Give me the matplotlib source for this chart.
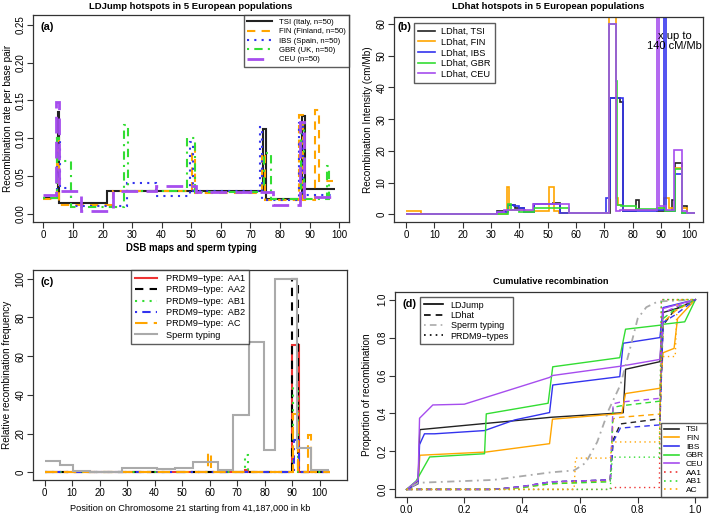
import numpy as np
import matplotlib
matplotlib.use("Agg")
import matplotlib.pyplot as plt
from matplotlib.lines import Line2D

plt.rcParams['font.family'] = ['Liberation Sans', 'DejaVu Sans']

# colours
c_tsi = "#222222"
c_fin = "#FFA500"
c_ibs = "#3333EE"
c_gbr = "#33DD33"
c_ceu = "#A64DEE"
c_red = "#EE3333"
c_grey = "#AAAAAA"

# ---------- (a) LDJump step functions ----------
a_tsi_edges = [0, 4.9, 5.3, 21.6, 74.1, 75.2, 87.3, 88.4, 98.5]
a_tsi_vals = [0.021, 0.135, 0.015, 0.031, 0.112, 0.020, 0.129, 0.033]
a_fin_edges = [0, 4.5, 5.3, 23.6, 50.3, 51.3, 73.8, 75.0, 86.5, 87.8, 91.8, 93.2, 98.0]
a_fin_vals = [0.020, 0.10, 0.012, 0.031, 0.089, 0.028, 0.08, 0.018, 0.131, 0.018, 0.137, 0.044]
a_ibs_edges = [0, 4.5, 5.5, 9.5, 28.3, 38.2, 49.5, 50.6, 73.2, 73.8, 86.5, 87.8, 98.5]
a_ibs_vals = [0.021, 0.10, 0.034, 0.010, 0.0405, 0.024, 0.095, 0.030, 0.115, 0.0185, 0.12, 0.025]
a_gbr_edges = [0, 4.5, 5.3, 9.3, 27.2, 28.5, 48.5, 51.3, 74.5, 77.0, 87.0, 88.0, 96.0, 96.6, 98.5]
a_gbr_vals = [0.021, 0.10, 0.0705, 0.0097, 0.117, 0.031, 0.10, 0.029, 0.08, 0.020, 0.12, 0.020, 0.064, 0.020]
a_ceu_edges = [0, 4.3, 5.4, 12.9, 23.6, 38.2, 51.5, 77.6, 86.6, 88.0, 98.5]
a_ceu_vals = [0.025, 0.148, 0.031, 0.004, 0.031, 0.037, 0.029, 0.012, 0.122, 0.023]

# ---------- (b) LDhat step functions ----------
b_tsi_edges = [0, 32, 36, 38.5, 41.5, 45.3, 52, 54.5, 72.1, 75.4, 76.6, 81.2, 82.4, 88.7, 93.8, 94.8, 97.3, 99.3, 102]
b_tsi_vals = [0.2, 1.0, 2.8, 2.0, 0.8, 3.2, 3.6, 0.4, 36.8, 35.3, 1.2, 4.6, 1.3, 1.2, 4.5, 16.3, 2.5, 0.3]
b_fin_edges = [0, 5.2, 35.6, 36.5, 42, 45.3, 50.6, 52.3, 54, 71.7, 74.2, 75, 76.5, 88.7, 91, 92.7, 94.8, 97.3, 99, 102]
b_fin_vals = [1.0, 0.2, 8.7, 1.5, 1.0, 1.2, 8.5, 1.0, 0.4, 80, 5.0, 3.0, 1.5, 2.0, 5.0, 2.0, 14.5, 2.0, 0.3]
b_ibs_edges = [0, 32, 36, 38, 40, 41.5, 45.3, 54.5, 70.7, 71.9, 76.6, 88.7, 90.9, 91.9, 94.8, 97.3, 102]
b_ibs_vals = [0.2, 0.8, 3.0, 2.5, 2.0, 0.8, 3.2, 0.4, 5.0, 36.8, 1.2, 1.5, 140, 1.0, 12.7, 0.3]
b_gbr_edges = [0, 35.9, 37, 40, 45.3, 57.6, 71.7, 74, 74.6, 76, 81, 88.7, 91.5, 94.8, 97.3, 102]
b_gbr_vals = [0.2, 3.3, 1.5, 0.8, 2.0, 0.4, 60, 42, 3.0, 2.5, 1.8, 2.0, 1.0, 14.3, 0.3]
b_ceu_edges = [0, 32, 34.6, 45, 57.6, 71.7, 74.2, 75.5, 88.7, 89.4, 91.9, 94.6, 97.4, 99, 102]
b_ceu_vals = [0.2, 0.6, 1.4, 3.3, 0.4, 60, 1.0, 1.5, 140, 2.5, 1.5, 20.4, 1.0, 0.3]

# ---------- (c) PRDM9 types and sperm typing ----------
c_sperm_edges = [0, 5.6, 10.5, 16.7, 28.3, 35, 40.7, 47.3, 54, 63, 68.4, 74.4, 79.8, 83.9, 91.8, 96.8, 103.2]
c_sperm_vals = [6, 4, 0.8, 0.3, 2, 2.3, 1.5, 2, 5.5, 1.2, 29.5, 67.5, 11.5, 100, 12.5, 1.2]
c_aa1_edges = [0, 73, 73.8, 90.1, 92.3, 103.6]
c_aa1_vals = [0, 1, 0, 66, 0]
c_aa2_edges = [0, 90.0, 92.2, 103.6]
c_aa2_vals = [0, 100, 0]
c_ab1_edges = [0, 72.8, 73.8, 90.3, 92.2, 103.6]
c_ab1_vals = [0, 8.8, 0, 45, 0]
c_ab2_edges = [0, 90.5, 92.3, 103.6]
c_ab2_vals = [0, 16.5, 0]
c_ac_edges = [0, 59.5, 60.5, 90.2, 92.2, 95.9, 96.9, 103.6]
c_ac_vals = [0, 10, 0, 30, 0, 19, 0]

# ---------- (d) cumulative recombination ----------
d_tsi_x = [0, 0.04, 0.046, 0.5, 0.75, 0.758, 0.877, 0.888, 0.95, 1.0]
d_tsi_y = [0, 0.04, 0.315, 0.38, 0.404, 0.633, 0.673, 0.932, 0.96, 1.0]
d_fin_x = [0, 0.04, 0.046, 0.276, 0.495, 0.505, 0.745, 0.758, 0.877, 0.888, 0.926, 0.938, 1.0]
d_fin_y = [0, 0.03, 0.18, 0.197, 0.241, 0.37, 0.40, 0.505, 0.533, 0.72, 0.743, 0.9, 1.0]
d_ibs_x = [0, 0.04, 0.045, 0.062, 0.097, 0.27, 0.374, 0.495, 0.506, 0.738, 0.75, 0.877, 0.888, 1.0]
d_ibs_y = [0, 0.03, 0.236, 0.293, 0.293, 0.31, 0.366, 0.405, 0.55, 0.594, 0.77, 0.80, 0.958, 1.0]
d_gbr_x = [0, 0.033, 0.08, 0.27, 0.276, 0.49, 0.506, 0.738, 0.758, 0.877, 0.888, 0.963, 1.0]
d_gbr_y = [0, 0.044, 0.171, 0.188, 0.398, 0.454, 0.646, 0.694, 0.844, 0.865, 0.87, 0.883, 1.0]
d_ceu_x = [0, 0.04, 0.045, 0.091, 0.2, 0.495, 0.505, 0.745, 0.877, 0.888, 1.0]
d_ceu_y = [0, 0.05, 0.375, 0.445, 0.449, 0.59, 0.60, 0.65, 0.685, 0.953, 1.0]

dh_x = [0, 0.3, 0.4, 0.5, 0.705, 0.715, 0.74, 0.877, 0.888, 0.93, 1.0]
dh_tsi_y = [0, 0, 0.015, 0.04, 0.05, 0.26, 0.345, 0.372, 0.865, 0.95, 1.0]
dh_fin_y = [0, 0, 0.01, 0.03, 0.045, 0.372, 0.38, 0.397, 0.88, 0.94, 1.0]
dh_ibs_y = [0, 0, 0.015, 0.04, 0.05, 0.25, 0.323, 0.34, 0.88, 0.92, 1.0]
dh_gbr_y = [0, 0, 0.01, 0.03, 0.04, 0.432, 0.44, 0.465, 0.9, 0.95, 1.0]
dh_ceu_y = [0, 0, 0.015, 0.04, 0.05, 0.451, 0.46, 0.48, 0.93, 0.96, 1.0]

d_sperm_x = [0, 0.04, 0.3, 0.5, 0.58, 0.62, 0.66, 0.70, 0.74, 0.77, 0.80, 0.83, 0.87, 1.0]
d_sperm_y = [0, 0.035, 0.05, 0.09, 0.10, 0.14, 0.25, 0.42, 0.55, 0.72, 0.90, 0.96, 0.99, 1.0]

d_aa1_x = [0, 0.705, 0.712, 0.875, 0.882, 1.0]
d_aa1_y = [0, 0, 0.01, 0.01, 1.0, 1.0]
d_ab1_x = [0, 0.705, 0.712, 0.875, 0.882, 1.0]
d_ab1_y = [0, 0, 0.17, 0.17, 1.0, 1.0]
d_ac_x = [0, 0.58, 0.585, 0.705, 0.712, 0.875, 0.882, 0.93, 0.937, 1.0]
d_ac_y = [0, 0, 0.165, 0.165, 0.25, 0.25, 0.70, 0.70, 1.0, 1.0]

# line styles (R lty)
ls_dash = (0, (4, 3))
ls_dot = (0, (1, 2.5))
ls_dotdash = (0, (1, 2.5, 4, 2.5))
ls_long = (0, (6, 3))

fig = plt.figure(figsize=(7.09, 5.16), dpi=100)
axa = fig.add_axes([0.0465, 0.5698, 0.4457, 0.4012])
axb = fig.add_axes([0.5557, 0.5698, 0.4358, 0.3973])
axc = fig.add_axes([0.0465, 0.0698, 0.4429, 0.4069])
axd = fig.add_axes([0.5571, 0.0368, 0.4401, 0.3973])

fs_tick = 7
fs_lab = 7.2
for ax in [axa, axb, axc, axd]:
    for s in ax.spines.values():
        s.set_linewidth(0.9)
        s.set_color("#333333")
    ax.tick_params(direction='out', length=4, width=0.8, labelsize=fs_tick, color="#333333", pad=1.5)

def yticks_r(ax, vals, labels):
    ax.set_yticks(vals)
    ax.set_yticklabels(labels, rotation=90, va='center')

def ylabel_r(ax, text, xpos):
    ax.set_ylabel(text, fontsize=fs_lab, va='center')
    ax.yaxis.set_label_coords(xpos, 0.5)

# (a)
axa.stairs(a_tsi_vals, a_tsi_edges, baseline=None, color=c_tsi, lw=1.5, label="TSI (Italy, n=50)")
axa.stairs(a_fin_vals, a_fin_edges, baseline=None, color=c_fin, lw=1.5, ls=ls_dash, label="FIN (Finland, n=50)")
axa.stairs(a_ibs_vals, a_ibs_edges, baseline=None, color=c_ibs, lw=1.5, ls=ls_dot, label="IBS (Spain, n=50)")
axa.stairs(a_gbr_vals, a_gbr_edges, baseline=None, color=c_gbr, lw=1.5, ls=ls_dotdash, label="GBR (UK, n=50)")
axa.stairs(a_ceu_vals, a_ceu_edges, baseline=None, color=c_ceu, lw=2.0, ls=ls_long, label="CEU (n=50)")
axa.set_xlim(-3.5, 103.3)
axa.set_ylim(-0.0106, 0.263)
axa.set_xticks(np.arange(0, 101, 10))
yticks_r(axa, [0, 0.05, 0.10, 0.15, 0.20, 0.25], ["0.00", "0.05", "0.10", "0.15", "0.20", "0.25"])
axa.text(0.5, 1.043, "LDJump hotspots in 5 European populations", transform=axa.transAxes,
         fontsize=6.8, fontweight='bold', ha='center', va='center')
axa.set_xlabel("DSB maps and sperm typing", fontsize=6.9, fontweight='bold', va='center')
axa.xaxis.set_label_coords(0.5, -0.126)
ylabel_r(axa, "Recombination rate per base pair", -0.079)
axa.text(0.025, 0.965, "(a)", transform=axa.transAxes, fontsize=7.8, fontweight='bold', va='top')
axa.legend(loc='upper right', fontsize=5.6, frameon=True, fancybox=False, edgecolor='#333333',
           borderaxespad=0, handlelength=3.2, labelspacing=0.25, borderpad=0.45, handletextpad=0.8)

# (b)
axb.stairs(b_tsi_vals, b_tsi_edges, baseline=None, color=c_tsi, lw=1.2, label="LDhat, TSI")
axb.stairs(b_fin_vals, b_fin_edges, baseline=None, color=c_fin, lw=1.2, label="LDhat, FIN")
axb.stairs(b_ibs_vals, b_ibs_edges, baseline=None, color=c_ibs, lw=1.2, label="LDhat, IBS")
axb.stairs(b_gbr_vals, b_gbr_edges, baseline=None, color=c_gbr, lw=1.2, label="LDhat, GBR")
axb.stairs(b_ceu_vals, b_ceu_edges, baseline=None, color=c_ceu, lw=1.2, label="LDhat, CEU")
axb.set_xlim(-4.2, 104.8)
axb.set_ylim(-2.4, 62.2)
axb.set_xticks(np.arange(0, 101, 10))
yticks_r(axb, np.arange(0, 61, 10), [str(v) for v in range(0, 61, 10)])
axb.text(0.5, 1.049, "LDhat hotspots in 5 European populations", transform=axb.transAxes,
         fontsize=6.8, fontweight='bold', ha='center', va='center')
ylabel_r(axb, "Recombination Intensity (cm/Mb)", -0.084)
axb.text(0.012, 0.975, "(b)", transform=axb.transAxes, fontsize=7.8, fontweight='bold', va='top')
axb.text(0.909, 0.883, "x up to\n140 cM/Mb", transform=axb.transAxes, fontsize=8,
         ha='center', va='center', linespacing=1.1)
axb.legend(loc='upper left', bbox_to_anchor=(0.065, 0.971), fontsize=6.6, frameon=True, fancybox=False,
           edgecolor='#333333', borderaxespad=0, handlelength=1.8, labelspacing=0.18, borderpad=0.45,
           handletextpad=0.7)

# (c)
axc.stairs(c_aa1_vals, c_aa1_edges, baseline=None, color=c_red, lw=1.5, label="PRDM9\u2212type:  AA1")
axc.stairs(c_aa2_vals, c_aa2_edges, baseline=None, color="black", lw=1.5, ls=ls_dash, label="PRDM9\u2212type:  AA2")
axc.stairs(c_ab1_vals, c_ab1_edges, baseline=None, color=c_gbr, lw=1.5, ls=ls_dot, label="PRDM9\u2212type:  AB1")
axc.stairs(c_ab2_vals, c_ab2_edges, baseline=None, color=c_ibs, lw=1.5, ls=ls_dotdash, label="PRDM9\u2212type:  AB2")
axc.stairs(c_ac_vals, c_ac_edges, baseline=None, color=c_fin, lw=1.5, ls=ls_long, label="PRDM9\u2212type:  AC")
axc.stairs(c_sperm_vals, c_sperm_edges, baseline=None, color=c_grey, lw=1.5, label="Sperm typing")
axc.set_xlim(-4.2, 109.9)
axc.set_ylim(-4, 104.5)
axc.set_xticks(np.arange(0, 101, 10))
yticks_r(axc, np.arange(0, 101, 20), [str(v) for v in range(0, 101, 20)])
axc.set_xlabel("Position on Chromosome 21 starting from 41,187,000 in kb", fontsize=6.6, va='center')
axc.xaxis.set_label_coords(0.5, -0.135)
ylabel_r(axc, "Relative recombination frequency", -0.083)
axc.text(0.025, 0.965, "(c)", transform=axc.transAxes, fontsize=7.8, fontweight='bold', va='top')
axc.legend(loc='upper center', bbox_to_anchor=(0.5, 1.0), fontsize=6.6, frameon=True, fancybox=False,
           edgecolor='#333333', borderaxespad=0, handlelength=2.4, labelspacing=0.25, borderpad=0.45,
           handletextpad=0.9)

# (d)
lw_d = 1.0
axd.plot(d_tsi_x, d_tsi_y, color=c_tsi, lw=lw_d)
axd.plot(d_fin_x, d_fin_y, color=c_fin, lw=lw_d)
axd.plot(d_ibs_x, d_ibs_y, color=c_ibs, lw=lw_d)
axd.plot(d_gbr_x, d_gbr_y, color=c_gbr, lw=lw_d)
axd.plot(d_ceu_x, d_ceu_y, color=c_ceu, lw=lw_d)
axd.plot(dh_x, dh_tsi_y, color=c_tsi, lw=lw_d, ls=ls_dash)
axd.plot(dh_x, dh_fin_y, color=c_fin, lw=lw_d, ls=ls_dash)
axd.plot(dh_x, dh_ibs_y, color=c_ibs, lw=lw_d, ls=ls_dash)
axd.plot(dh_x, dh_gbr_y, color=c_gbr, lw=lw_d, ls=ls_dash)
axd.plot(dh_x, dh_ceu_y, color=c_ceu, lw=lw_d, ls=ls_dash)
axd.plot(d_sperm_x, d_sperm_y, color=c_grey, lw=1.3, ls=ls_dotdash)
axd.plot(d_aa1_x, d_aa1_y, color=c_red, lw=lw_d, ls=ls_dot)
axd.plot(d_ab1_x, d_ab1_y, color=c_gbr, lw=lw_d, ls=ls_dot)
axd.plot(d_ac_x, d_ac_y, color=c_fin, lw=lw_d, ls=ls_dot)
axd.set_xlim(-0.04, 1.04)
axd.set_ylim(-0.04, 1.04)
axd.set_xticks(np.arange(0, 1.01, 0.2))
axd.set_xticklabels(["0.0", "0.2", "0.4", "0.6", "0.8", "1.0"])
yticks_r(axd, np.arange(0, 1.01, 0.2), ["0.0", "0.2", "0.4", "0.6", "0.8", "1.0"])
axd.text(0.5, 1.049, "Cumulative recombination", transform=axd.transAxes,
         fontsize=6.6, fontweight='bold', ha='center', va='center')
ylabel_r(axd, "Proportion of recombination", -0.091)
axd.text(0.025, 0.965, "(d)", transform=axd.transAxes, fontsize=7.8, fontweight='bold', va='top')

h1 = [Line2D([], [], color='black', lw=1.2),
      Line2D([], [], color='black', lw=1.2, ls=ls_dash),
      Line2D([], [], color=c_grey, lw=1.2, ls=ls_dotdash),
      Line2D([], [], color='black', lw=1.2, ls=ls_dot)]
leg1 = axd.legend(h1, ["LDJump", "LDhat", "Sperm typing", "PRDM9\u2212types"], loc='upper left',
                  bbox_to_anchor=(0.08, 0.976), fontsize=6.5, frameon=True, fancybox=False,
                  edgecolor='#333333', borderaxespad=0, handlelength=2.2, labelspacing=0.15,
                  borderpad=0.4, handletextpad=0.8)
axd.add_artist(leg1)
h2 = [Line2D([], [], color=c_tsi, lw=1.2), Line2D([], [], color=c_fin, lw=1.2),
      Line2D([], [], color=c_ibs, lw=1.2), Line2D([], [], color=c_gbr, lw=1.2),
      Line2D([], [], color=c_ceu, lw=1.2), Line2D([], [], color=c_red, lw=1.2, ls=ls_dot),
      Line2D([], [], color=c_gbr, lw=1.2, ls=ls_dot), Line2D([], [], color=c_fin, lw=1.2, ls=ls_dot)]
axd.legend(h2, ["TSI", "FIN", "IBS", "GBR", "CEU", "AA1", "AB1", "AC"], loc='lower right',
           fontsize=6.0, frameon=True, fancybox=False, edgecolor='#333333', borderaxespad=0,
           handlelength=1.8, labelspacing=0.1, borderpad=0.35, handletextpad=0.8)

fig.savefig("out.png", dpi=100)
